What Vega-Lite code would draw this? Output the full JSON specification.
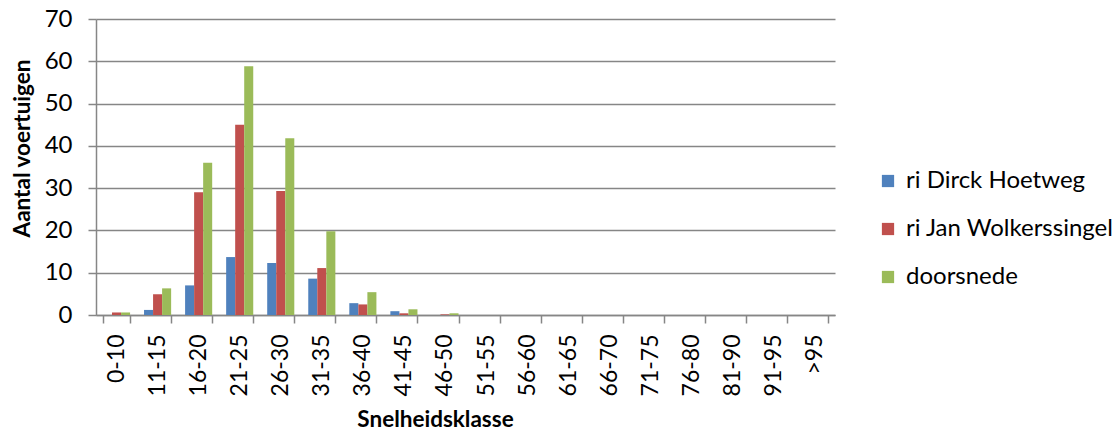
{
  "$schema": "https://vega.github.io/schema/vega-lite/v6.json",
  "autosize": "none",
  "width": 739,
  "height": 296,
  "padding": {"left": 96, "top": 19, "right": 285, "bottom": 119},
  "background": "white",
  "config": {
    "font": "Lato",
    "view": {"stroke": null}
  },
  "data": {
    "values": [
      {"klasse": "0-10", "reeks": "ri Dirck Hoetweg", "waarde": 0},
      {"klasse": "0-10", "reeks": "ri Jan Wolkerssingel", "waarde": 0.6},
      {"klasse": "0-10", "reeks": "doorsnede", "waarde": 0.6},
      {"klasse": "11-15", "reeks": "ri Dirck Hoetweg", "waarde": 1.2},
      {"klasse": "11-15", "reeks": "ri Jan Wolkerssingel", "waarde": 4.9},
      {"klasse": "11-15", "reeks": "doorsnede", "waarde": 6.3},
      {"klasse": "16-20", "reeks": "ri Dirck Hoetweg", "waarde": 7.0},
      {"klasse": "16-20", "reeks": "ri Jan Wolkerssingel", "waarde": 29.0},
      {"klasse": "16-20", "reeks": "doorsnede", "waarde": 36.0},
      {"klasse": "21-25", "reeks": "ri Dirck Hoetweg", "waarde": 13.7},
      {"klasse": "21-25", "reeks": "ri Jan Wolkerssingel", "waarde": 45.0},
      {"klasse": "21-25", "reeks": "doorsnede", "waarde": 58.8},
      {"klasse": "26-30", "reeks": "ri Dirck Hoetweg", "waarde": 12.3},
      {"klasse": "26-30", "reeks": "ri Jan Wolkerssingel", "waarde": 29.3},
      {"klasse": "26-30", "reeks": "doorsnede", "waarde": 41.8},
      {"klasse": "31-35", "reeks": "ri Dirck Hoetweg", "waarde": 8.6},
      {"klasse": "31-35", "reeks": "ri Jan Wolkerssingel", "waarde": 11.1},
      {"klasse": "31-35", "reeks": "doorsnede", "waarde": 19.8},
      {"klasse": "36-40", "reeks": "ri Dirck Hoetweg", "waarde": 2.8},
      {"klasse": "36-40", "reeks": "ri Jan Wolkerssingel", "waarde": 2.5},
      {"klasse": "36-40", "reeks": "doorsnede", "waarde": 5.4},
      {"klasse": "41-45", "reeks": "ri Dirck Hoetweg", "waarde": 0.9},
      {"klasse": "41-45", "reeks": "ri Jan Wolkerssingel", "waarde": 0.4},
      {"klasse": "41-45", "reeks": "doorsnede", "waarde": 1.35},
      {"klasse": "46-50", "reeks": "ri Dirck Hoetweg", "waarde": 0},
      {"klasse": "46-50", "reeks": "ri Jan Wolkerssingel", "waarde": 0.15},
      {"klasse": "46-50", "reeks": "doorsnede", "waarde": 0.4},
      {"klasse": "51-55", "reeks": "ri Dirck Hoetweg", "waarde": 0},
      {"klasse": "51-55", "reeks": "ri Jan Wolkerssingel", "waarde": 0},
      {"klasse": "51-55", "reeks": "doorsnede", "waarde": 0},
      {"klasse": "56-60", "reeks": "ri Dirck Hoetweg", "waarde": 0},
      {"klasse": "56-60", "reeks": "ri Jan Wolkerssingel", "waarde": 0},
      {"klasse": "56-60", "reeks": "doorsnede", "waarde": 0},
      {"klasse": "61-65", "reeks": "ri Dirck Hoetweg", "waarde": 0},
      {"klasse": "61-65", "reeks": "ri Jan Wolkerssingel", "waarde": 0},
      {"klasse": "61-65", "reeks": "doorsnede", "waarde": 0},
      {"klasse": "66-70", "reeks": "ri Dirck Hoetweg", "waarde": 0},
      {"klasse": "66-70", "reeks": "ri Jan Wolkerssingel", "waarde": 0},
      {"klasse": "66-70", "reeks": "doorsnede", "waarde": 0},
      {"klasse": "71-75", "reeks": "ri Dirck Hoetweg", "waarde": 0},
      {"klasse": "71-75", "reeks": "ri Jan Wolkerssingel", "waarde": 0},
      {"klasse": "71-75", "reeks": "doorsnede", "waarde": 0},
      {"klasse": "76-80", "reeks": "ri Dirck Hoetweg", "waarde": 0},
      {"klasse": "76-80", "reeks": "ri Jan Wolkerssingel", "waarde": 0},
      {"klasse": "76-80", "reeks": "doorsnede", "waarde": 0},
      {"klasse": "81-90", "reeks": "ri Dirck Hoetweg", "waarde": 0},
      {"klasse": "81-90", "reeks": "ri Jan Wolkerssingel", "waarde": 0},
      {"klasse": "81-90", "reeks": "doorsnede", "waarde": 0},
      {"klasse": "91-95", "reeks": "ri Dirck Hoetweg", "waarde": 0},
      {"klasse": "91-95", "reeks": "ri Jan Wolkerssingel", "waarde": 0},
      {"klasse": "91-95", "reeks": "doorsnede", "waarde": 0},
      {"klasse": ">95", "reeks": "ri Dirck Hoetweg", "waarde": 0},
      {"klasse": ">95", "reeks": "ri Jan Wolkerssingel", "waarde": 0},
      {"klasse": ">95", "reeks": "doorsnede", "waarde": 0}
    ]
  },
  "mark": {"type": "bar"},
  "encoding": {
    "x": {
      "field": "klasse",
      "type": "nominal",
      "sort": null,
      "scale": {"paddingInner": 0.34, "paddingOuter": 0.17},
      "axis": {
        "title": "Snelheidsklasse",
        "titleFont": "Lato",
        "titleFontSize": 22.5,
        "titleFontWeight": "bold",
        "titleColor": "#000000",
        "titleX": 339,
        "titleY": 104,
        "titleBaseline": "middle",
        "titleAnchor": null,
        "labelAngle": -90,
        "labelAlign": "right",
        "labelBaseline": "middle",
        "labelFontSize": 23,
        "labelColor": "#000000",
        "labelPadding": 11,
        "tickBand": "extent",
        "tickSize": 8,
        "tickColor": "#868686",
        "tickWidth": 1.5,
        "domainColor": "#868686",
        "domainWidth": 1.5,
        "grid": false
      }
    },
    "xOffset": {
      "field": "reeks",
      "type": "nominal",
      "sort": ["ri Dirck Hoetweg", "ri Jan Wolkerssingel", "doorsnede"],
      "scale": {"paddingInner": 0, "paddingOuter": 0}
    },
    "y": {
      "field": "waarde",
      "type": "quantitative",
      "scale": {"domain": [0, 70], "nice": false},
      "axis": {
        "title": "Aantal voertuigen",
        "titleFont": "Lato",
        "titleFontSize": 22.5,
        "titleFontWeight": "bold",
        "titleColor": "#000000",
        "titleX": -74,
        "titleY": 129,
        "titleAngle": -90,
        "titleAlign": "center",
        "titleBaseline": "middle",
        "values": [0, 10, 20, 30, 40, 50, 60, 70],
        "labelFontSize": 24,
        "labelColor": "#000000",
        "labelPadding": 16,
        "tickSize": 8,
        "tickColor": "#868686",
        "tickWidth": 1.5,
        "domainColor": "#868686",
        "domainWidth": 1.5,
        "grid": true,
        "gridColor": "#868686",
        "gridWidth": 1.5
      }
    },
    "color": {
      "field": "reeks",
      "type": "nominal",
      "scale": {
        "domain": ["ri Dirck Hoetweg", "ri Jan Wolkerssingel", "doorsnede"],
        "range": ["#4F81BD", "#C0504D", "#9BBB59"]
      },
      "legend": {
        "title": null,
        "orient": "none",
        "legendX": 780,
        "legendY": 150,
        "symbolType": "square",
        "symbolSize": 150,
        "symbolStrokeWidth": 0,
        "labelFontSize": 24,
        "labelColor": "#000000",
        "labelOffset": 6,
        "labelLimit": 400,
        "rowPadding": 24
      }
    }
  }
}
